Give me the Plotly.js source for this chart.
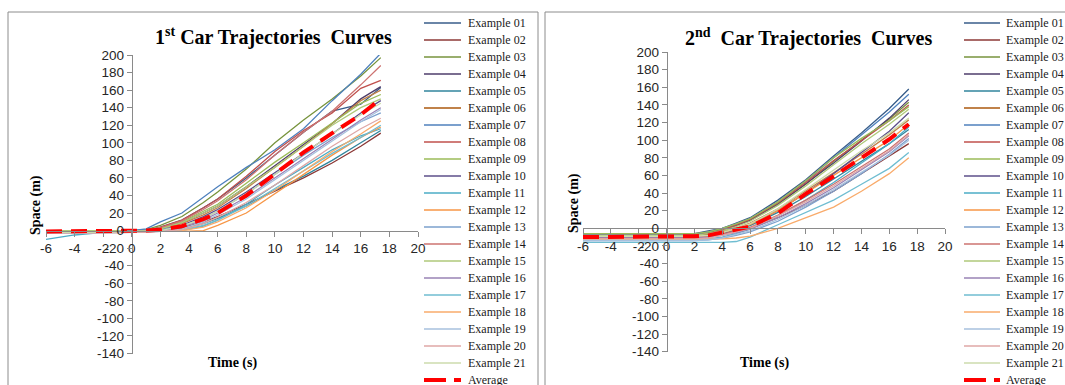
<!DOCTYPE html>
<html>
<head>
<meta charset="utf-8">
<script src="https://cdn.plot.ly/plotly-3.0.1.min.js"></script>
<style>html,body{margin:0;padding:0;background:#fff;}#chart{width:1065px;height:385px;}</style>
</head>
<body>
<div id="chart"></div>
<script>
// ---------- DATA ----------
const names = ["Example 01","Example 02","Example 03","Example 04","Example 05","Example 06","Example 07",
  "Example 08","Example 09","Example 10","Example 11","Example 12","Example 13","Example 14",
  "Example 15","Example 16","Example 17","Example 18","Example 19","Example 20","Example 21"];
const avgName = "Average";

// axis ticks
const xTickVals = [-6,-4,-2,0,2,4,6,8,10,12,14,16,18,20];
const xTickText = ["-6","-4","-2","0","2","4","6","8","10","12","14","16","18","20"];
const yTickVals = [-140,-120,-100,-80,-60,-40,-20,0,20,40,60,80,100,120,140,160,180,200];
const yTickText = ["-140","-120","-100","-80","-60","-40","-20","0","20","40","60","80","100","120","140","160","180","200"];

// time (s)
const time1 = [-6, -4, -2, 0, 1, 2, 3.5, 5, 6, 8, 10, 12, 14, 16, 17.4];
const time2 = [-6, -4, -2, 0, 2, 3, 4, 5, 6, 8, 10, 12, 14, 16, 17.4];

// 1st car space (m)
const car1_01 = [-1,-1,0,0,0,4,12,26,36,60,86,112,136,144,163];
const car1_02 = [-2,-2,-2,-1,-1,0,3,10,16,30,45,60,77,96,111];
const car1_03 = [0,0,0,0,1,6,16,32,44,70,100,126,150,176,197];
const car1_04 = [-1,-1,-1,0,0,2,9,20,28,50,74,98,122,150,164];
const car1_05 = [-2,-2,-2,-1,-1,0,2,8,14,28,46,62,80,100,114];
const car1_06 = [-1,-1,0,0,0,2,8,18,26,48,72,96,122,148,160];
const car1_07 = [0,0,0,0,2,10,20,38,50,72,92,116,148,178,202];
const car1_08 = [0,0,0,0,0,4,12,26,36,62,90,114,134,162,171];
const car1_09 = [0,0,0,0,0,3,10,22,30,54,78,100,122,145,155];
const car1_10 = [-1,-1,-1,0,0,1,6,16,24,44,66,88,110,134,148];
const car1_11 = [-10,-5,-2,-1,-1,-1,0,5,12,30,52,72,92,108,116];
const car1_12 = [-2,-2,-2,-1,-1,-1,-1,0,6,20,42,64,86,106,118];
const car1_13 = [-1,-1,-1,-1,0,1,5,14,22,42,64,86,106,124,134];
const car1_14 = [0,0,0,0,0,3,11,24,34,58,86,112,136,166,188];
const car1_15 = [0,0,0,0,0,2,9,20,28,50,72,96,120,140,150];
const car1_16 = [-2,-2,-2,-1,-1,0,4,12,20,38,60,82,104,126,140];
const car1_17 = [-3,-3,-2,-2,-1,-1,1,6,12,28,48,68,88,106,120];
const car1_18 = [-2,-2,-2,-2,-1,-1,0,4,10,26,46,68,90,110,125];
const car1_19 = [-3,-3,-3,-2,-2,-1,2,10,18,36,58,80,102,124,138];
const car1_20 = [-3,-3,-3,-2,-2,-1,1,8,15,32,52,74,96,116,128];
const car1_21 = [-2,-2,-2,-1,-1,0,5,14,22,42,64,88,110,132,145];
const car1_avg = [-1,-1,-1,0,0,1,5,13,20,40,64,89,111,132,150];

// 2nd car space (m)
const car2_01 = [-6,-6,-6,-6,-6,-3,0,6,12,32,55,82,108,136,158];
const car2_02 = [-8,-8,-8,-8,-8,-8,-6,-3,0,12,26,42,62,82,96];
const car2_03 = [-7,-7,-7,-7,-7,-5,-1,4,10,28,50,76,100,124,143];
const car2_04 = [-9,-9,-9,-9,-9,-7,-3,3,9,27,50,74,99,125,146];
const car2_05 = [-10,-10,-10,-10,-10,-9,-6,-2,3,18,36,56,76,96,112];
const car2_06 = [-8,-8,-8,-8,-8,-7,-4,0,6,22,42,63,84,106,123];
const car2_07 = [-7,-7,-7,-7,-7,-4,0,5,11,30,53,80,106,132,152];
const car2_08 = [-8,-8,-8,-8,-8,-6,-2,4,10,29,52,77,100,122,140];
const car2_09 = [-6,-6,-6,-6,-6,-4,0,5,11,30,54,80,102,122,138];
const car2_10 = [-10,-10,-10,-10,-10,-9,-6,-1,4,20,40,62,86,110,131];
const car2_11 = [-12,-12,-12,-12,-12,-12,-10,-6,-1,14,32,52,74,96,115];
const car2_12 = [-9,-9,-9,-9,-9,-8,-5,-1,4,20,40,60,80,100,118];
const car2_13 = [-14,-14,-14,-14,-14,-13,-11,-8,-4,8,24,42,62,84,102];
const car2_14 = [-10,-10,-10,-10,-10,-9,-7,-3,1,15,32,50,70,90,108];
const car2_15 = [-8,-8,-8,-8,-8,-6,-3,2,8,26,48,72,96,118,135];
const car2_16 = [-11,-11,-11,-11,-11,-10,-8,-5,-1,12,28,46,66,87,105];
const car2_17 = [-16,-16,-16,-16,-16,-16,-16,-15,-10,4,18,32,50,68,86];
const car2_18 = [-12,-12,-12,-12,-12,-12,-12,-11,-9,0,12,24,42,62,80];
const car2_19 = [-14,-14,-14,-14,-14,-13,-11,-7,-3,10,26,44,64,83,100];
const car2_20 = [-12,-12,-12,-12,-12,-11,-8,-4,0,14,30,48,68,88,106];
const car2_21 = [-9,-9,-9,-9,-9,-8,-5,0,5,22,44,66,88,108,125];
const car2_avg = [-10,-10,-10,-10,-9,-8,-5,-2,2,17,39,59,80,101,118];

const car1 = [car1_01,car1_02,car1_03,car1_04,car1_05,car1_06,car1_07,car1_08,car1_09,car1_10,car1_11,
  car1_12,car1_13,car1_14,car1_15,car1_16,car1_17,car1_18,car1_19,car1_20,car1_21];
const car2 = [car2_01,car2_02,car2_03,car2_04,car2_05,car2_06,car2_07,car2_08,car2_09,car2_10,car2_11,
  car2_12,car2_13,car2_14,car2_15,car2_16,car2_17,car2_18,car2_19,car2_20,car2_21];

// ---------- STYLE ----------
const colors = ["#385D8A","#8C3836","#77933C","#4E3D6B","#31859C","#C0824A","#4F81BD","#C0504D",
  "#9BBB59","#5C4F8A","#4BACC6","#F79646","#7BA0CD","#CD7371","#AFC97A","#9983B5","#6FBDD1",
  "#F9AB6B","#A7C0DE","#DFA7A6","#CDDBAC"];
const W = 1065, H = 385;
const px = x => x / W, py = y => 1 - y / H;

const traces = [];
car1.forEach((s, i) => traces.push({x: time1, y: s, xaxis: 'x', yaxis: 'y', mode: 'lines', name: names[i],
  line: {color: colors[i], width: 1.3}, showlegend: false, hoverinfo: 'skip'}));
traces.push({x: time1, y: car1_avg, xaxis: 'x', yaxis: 'y', mode: 'lines', name: avgName,
  line: {color: '#FF0000', width: 4, dash: '16px,9px'}, showlegend: false, hoverinfo: 'skip'});
car2.forEach((s, i) => traces.push({x: time2, y: s, xaxis: 'x2', yaxis: 'y2', mode: 'lines', name: names[i],
  line: {color: colors[i], width: 1.3}, showlegend: false, hoverinfo: 'skip'}));
traces.push({x: time2, y: car2_avg, xaxis: 'x2', yaxis: 'y2', mode: 'lines', name: avgName,
  line: {color: '#FF0000', width: 4, dash: '16px,9px'}, showlegend: false, hoverinfo: 'skip'});

const tickFont = {family: 'Liberation Sans, Arial, sans-serif', size: 13.5, color: '#262626'};
function xax(dom, pos) {
  return {domain: dom, range: [-6, 20], tickmode: 'array', tickvals: xTickVals, ticktext: xTickText,
    anchor: 'free', position: pos,
    showline: true, linecolor: '#8a8a8a', linewidth: 1, ticks: 'outside', ticklen: 5, tickcolor: '#8a8a8a',
    showgrid: false, zeroline: false, tickfont: tickFont, fixedrange: true};
}
function yax(dom, pos) {
  return {domain: dom, range: [-140, 200], tickmode: 'array', tickvals: yTickVals, ticktext: yTickText,
    anchor: 'free', position: pos,
    showline: true, linecolor: '#8a8a8a', linewidth: 1, ticks: 'outside', ticklen: 5, tickcolor: '#8a8a8a',
    showgrid: false, zeroline: false, tickfont: tickFont, fixedrange: true};
}

const shapes = [], annotations = [];
// chart frames
shapes.push({type: 'rect', xref: 'paper', yref: 'paper', x0: px(8), x1: px(538), y0: -0.1, y1: py(12),
  line: {color: '#8c8c8c', width: 1}});
shapes.push({type: 'rect', xref: 'paper', yref: 'paper', x0: px(545), x1: 1.1, y0: -0.1, y1: py(12),
  line: {color: '#8c8c8c', width: 1}});

// legends
const legendNames = names.concat([avgName]);
const legendColors = colors.concat(['#FF0000']);
[[424, 461, 466], [964, 1000, 1004]].forEach(([l0, l1, tx]) => {
  legendNames.forEach((n, i) => {
    const y = 23 + 17 * i;
    const isAvg = i === names.length;
    shapes.push({type: 'line', xref: 'paper', yref: 'paper', x0: px(l0), x1: px(l1), y0: py(y), y1: py(y),
      line: {color: legendColors[i], width: isAvg ? 4 : (i === 5 ? 2 : 1.5), dash: isAvg ? '22px,8px' : 'solid'}});
    annotations.push({xref: 'paper', yref: 'paper', x: px(tx), y: py(y), xanchor: 'left', yanchor: 'middle',
      text: n, showarrow: false, font: {family: 'Liberation Serif, Times New Roman, serif', size: 12, color: '#1a1a1a'}});
  });
});

// titles
const titleFont = {family: 'Liberation Serif, Times New Roman, serif', size: 20, color: '#000'};
annotations.push({xref: 'paper', yref: 'paper', x: px(273), y: py(36), xanchor: 'center', yanchor: 'middle',
  text: '<b>1<sup>st</sup> Car Trajectories  Curves</b>', showarrow: false, font: titleFont});
annotations.push({xref: 'paper', yref: 'paper', x: px(808), y: py(37), xanchor: 'center', yanchor: 'middle',
  text: '<b>2<sup>nd</sup>  Car Trajectories  Curves</b>', showarrow: false, font: titleFont});
// axis titles
const axFont = {family: 'Liberation Serif, Times New Roman, serif', size: 14, color: '#000'};
annotations.push({xref: 'paper', yref: 'paper', x: px(36), y: py(205), textangle: -90, xanchor: 'center', yanchor: 'middle',
  text: '<b>Space (m)</b>', showarrow: false, font: axFont});
annotations.push({xref: 'paper', yref: 'paper', x: px(232), y: py(363), xanchor: 'center', yanchor: 'middle',
  text: '<b>Time (s)</b>', showarrow: false, font: axFont});
annotations.push({xref: 'paper', yref: 'paper', x: px(574), y: py(203), textangle: -90, xanchor: 'center', yanchor: 'middle',
  text: '<b>Space (m)</b>', showarrow: false, font: axFont});
annotations.push({xref: 'paper', yref: 'paper', x: px(764), y: py(363), xanchor: 'center', yanchor: 'middle',
  text: '<b>Time (s)</b>', showarrow: false, font: axFont});

const layout = {
  width: W, height: H, margin: {l: 0, r: 0, t: 0, b: 0},
  paper_bgcolor: '#fff', plot_bgcolor: 'rgba(0,0,0,0)', showlegend: false,
  xaxis: xax([px(46), px(418)], py(230.7)),
  yaxis: yax([py(353.5), py(55)], px(131.8)),
  xaxis2: xax([px(583), px(945)], py(228.3)),
  yaxis2: yax([py(351.7), py(52)], px(666.7)),
  shapes: shapes, annotations: annotations
};
Plotly.newPlot('chart', traces, layout, {staticPlot: true, displayModeBar: false});
</script>
</body>
</html>
